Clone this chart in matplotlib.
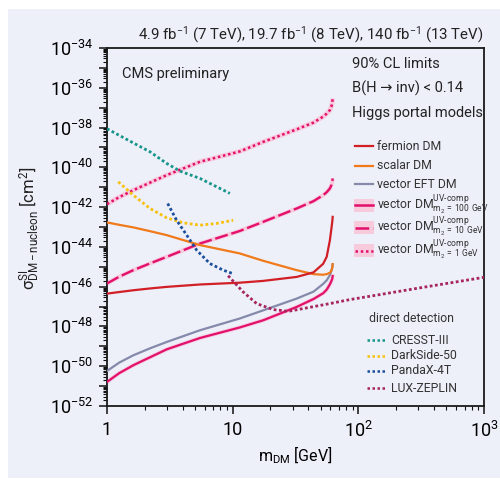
import numpy as np
import matplotlib
matplotlib.use("Agg")
import matplotlib.pyplot as plt
from matplotlib.lines import Line2D
from matplotlib.patches import Rectangle
from matplotlib.ticker import FixedLocator, FuncFormatter, LogLocator, NullFormatter

plt.rcParams['font.family'] = ['Roboto', 'DejaVu Sans']
plt.rcParams['mathtext.fontset'] = 'custom'
plt.rcParams['mathtext.rm'] = 'Roboto'
plt.rcParams['mathtext.it'] = 'Roboto:italic'
plt.rcParams['mathtext.bf'] = 'Roboto:bold'
plt.rcParams['mathtext.sf'] = 'Roboto'

# ---------------- data (log10 of cross-section in cm^2) ----------------
mass_higgs = [1.0, 1.25, 1.62, 2.2, 2.99, 5.5, 11.4, 17.5, 32.3, 44.0, 52.5, 56.0, 59.4, 61.0, 62.0, 62.5]
fermion_log = [-46.35, -46.27, -46.18, -46.09, -46.01, -45.89, -45.80, -45.71, -45.51, -45.28, -44.85, -44.50, -43.66, -43.10, -42.75, -42.49]
scalar_log = [-42.77, -42.89, -43.02, -43.21, -43.41, -43.91, -44.33, -44.70, -45.17, -45.37, -45.40, -45.37, -45.30, -45.20, -45.05, -44.87]
vector_eft_log = [-50.24, -49.82, -49.45, -49.10, -48.78, -48.19, -47.60, -47.19, -46.60, -46.25, -45.86, -45.68, -45.42, -45.20, -45.05, -44.87]
uv100_log = [-50.79, -50.35, -49.95, -49.55, -49.15, -48.58, -48.05, -47.69, -47.02, -46.62, -46.33, -46.15, -45.88, -45.72, -45.60, -45.47]
uv10_log = [-45.84, -45.50, -45.17, -44.83, -44.50, -43.83, -43.20, -42.74, -42.07, -41.70, -41.40, -41.25, -41.06, -40.90, -40.75, -40.56]
uv1_log = [-41.85, -41.50, -41.15, -40.77, -40.39, -39.72, -39.20, -38.72, -38.09, -37.75, -37.45, -37.30, -37.12, -36.95, -36.75, -36.53]

cresst_mass = [1.0, 1.52, 2.2, 2.98, 3.81, 5.5, 9.5]
cresst_log = [-38.06, -38.68, -39.22, -39.80, -40.19, -40.56, -41.31]
darkside_mass = [1.23, 1.62, 2.2, 2.99, 4.05, 5.5, 7.46, 10.1]
darkside_log = [-40.73, -41.40, -42.07, -42.54, -42.79, -42.91, -42.82, -42.66]
pandax_mass = [3.04, 3.58, 4.31, 5.18, 6.59, 8.41, 10.0]
pandax_log = [-41.82, -42.66, -43.41, -44.17, -44.84, -45.17, -45.34]
lz_mass = [9.2, 12.1, 15.5, 21.0, 27.7, 36.5, 59.4, 85.7, 316.0, 1000.0]
lz_log = [-45.45, -46.26, -46.85, -47.15, -47.24, -47.10, -46.85, -46.65, -46.05, -45.53]

x_ticks = [1, 10, 100, 1000]
x_tick_labels = ["1", "10", "$10^2$", "$10^3$"]

# ---------------- colours ----------------
BG = '#EDEFF9'
C_FERM = '#D21F26'
C_SCAL = '#F07A1A'
C_EFT = '#8589AA'
C_UV = '#E2106C'
C_BAND = '#F7CADC'
C_CRESST = '#16958A'
C_DS = '#F8C10C'
C_PX = '#1B4F9C'
C_LZ = '#A6255F'

W, H = 500, 479
fig = plt.figure(figsize=(W / 100, H / 100), dpi=100)
fig.patch.set_facecolor('white')
fig.add_artist(Rectangle((8 / W, 1 - 478 / H), 492 / W, 469 / H, transform=fig.transFigure,
                         facecolor=BG, edgecolor='none', zorder=-10))

def fx(px):
    return px / W

def fy(py):
    return 1 - py / H

ax = fig.add_axes([fx(107), fy(406), (484 - 107) / W, (406 - 48) / H])
ax.set_facecolor(BG)
ax.set_xscale('log')
ax.set_yscale('log')
ax.set_xlim(1, 1000)
ax.set_ylim(1e-52, 1e-34)

def p(v):
    return 10.0 ** np.array(v)

# Higgs portal curves
ax.plot(mass_higgs, p(uv1_log), color=C_BAND, lw=3.4, solid_capstyle='butt', zorder=2)
ax.plot(mass_higgs, p(uv1_log), color=C_UV, lw=1.8, ls=(0, (1, 1.1)), zorder=3)
ax.plot(mass_higgs, p(uv10_log), color=C_BAND, lw=3.0, solid_capstyle='butt', zorder=2)
ax.plot(mass_higgs, p(uv10_log), color=C_UV, lw=1.7, ls=(0, (5.5, 1.6)), zorder=3)
ax.plot(mass_higgs, p(uv100_log), color=C_BAND, lw=2.8, zorder=2)
ax.plot(mass_higgs, p(uv100_log), color=C_UV, lw=1.6, zorder=3)
ax.plot(mass_higgs, p(vector_eft_log), color=C_EFT, lw=1.6, zorder=3)
ax.plot(mass_higgs, p(scalar_log), color=C_SCAL, lw=1.6, zorder=3)
ax.plot(mass_higgs, p(fermion_log), color=C_FERM, lw=1.6, zorder=3)

# direct detection
dot = (0, (1, 0.9))
ax.plot(cresst_mass, p(cresst_log), color=C_CRESST, lw=2.0, ls=dot, zorder=4)
ax.plot(darkside_mass, p(darkside_log), color=C_DS, lw=2.0, ls=dot, zorder=4)
ax.plot(pandax_mass, p(pandax_log), color=C_PX, lw=2.0, ls=dot, zorder=4)
ax.plot(lz_mass, p(lz_log), color=C_LZ, lw=2.0, ls=dot, zorder=4)

# ticks
ax.xaxis.set_major_locator(FixedLocator(x_ticks))
ax.set_xticklabels(x_tick_labels)
ax.xaxis.set_minor_locator(LogLocator(base=10, subs=np.arange(2, 10), numticks=50))
ax.xaxis.set_minor_formatter(NullFormatter())

ax.yaxis.set_major_locator(FixedLocator(10.0 ** np.arange(-52, -33)))
def yfmt(v, pos):
    e = int(round(np.log10(v)))
    return r"$10^{%d}$" % e if e % 2 == 0 else ""
ax.yaxis.set_major_formatter(FuncFormatter(yfmt))
ax.yaxis.set_minor_locator(LogLocator(base=10, subs=np.arange(2, 10), numticks=100))
ax.yaxis.set_minor_formatter(NullFormatter())

ax.tick_params(which='major', direction='out', length=6, width=1.1, labelsize=13, color='#111111')
ax.tick_params(which='minor', direction='out', length=3.2, width=0.8, color='#111111')
ax.tick_params(axis='x', which='major', pad=5)
ax.tick_params(axis='y', which='major', pad=4)
for s in ax.spines.values():
    s.set_linewidth(1.3)
    s.set_color('#1a1a1a')

ax.set_xlabel(r"m$_{\mathrm{DM}}$ [GeV]", fontsize=11.5, labelpad=2)
fig.text(fx(30), fy(228), r"$\mathrm{\sigma}^{\mathrm{SI}}_{\mathrm{DM-nucleon}}$ [cm$^{2}$]",
         rotation=90, fontsize=12, ha='center', va='center', color='#222222')

# header
fig.text(fx(483), fy(39.5), r"4.9 fb$^{-1}$ (7 TeV), 19.7 fb$^{-1}$ (8 TeV), 140 fb$^{-1}$ (13 TeV)",
         ha='right', va='baseline', fontsize=10.8, color='#222222')
fig.text(fx(122), fy(74), "CMS preliminary", ha='left', va='center', fontsize=10.5, color='#222222')
fig.text(fx(352), fy(64), "90% CL limits", ha='left', va='center', fontsize=10.5, color='#222222')
fig.text(fx(352), fy(88.5), "B(H \u2192 inv) < 0.14", ha='left', va='center', fontsize=10.5, color='#222222')
fig.text(fx(352), fy(112.5), "Higgs portal models", ha='left', va='center', fontsize=10.5, color='#222222')

# Higgs legend (manual)
leg_fs = 8.8
def leg_line(py, color, ls='-', band=False, lw=1.6):
    if band:
        fig.add_artist(Rectangle((fx(354), fy(py + 6.5)), (374 - 354) / W, 13 / H,
                                 transform=fig.transFigure, facecolor=C_BAND, edgecolor='none', zorder=5))
    fig.add_artist(Line2D([fx(355), fx(373)], [fy(py), fy(py)], transform=fig.transFigure,
                          color=color, lw=lw, ls=ls, zorder=6))

leg_line(146, C_FERM)
fig.text(fx(377), fy(146), "fermion DM", fontsize=leg_fs, va='center', color='#333333')
leg_line(165.5, C_SCAL)
fig.text(fx(377), fy(165.5), "scalar DM", fontsize=leg_fs, va='center', color='#333333')
leg_line(184, C_EFT)
fig.text(fx(377), fy(184), "vector EFT DM", fontsize=leg_fs, va='center', color='#333333')
uv_entries = [(205, '-', '100'), (227.5, (0, (5.5, 1.6)), '10'), (250.5, (0, (1, 1.1)), '1')]
for py, ls, m2 in uv_entries:
    leg_line(py, C_UV, ls=ls, band=True, lw=1.8)
    fig.text(fx(377), fy(py), r"vector DM$^{\text{UV-comp}}_{\mathrm{m}_{2}\,=\,%s\ \mathrm{GeV}}$" % m2,
             fontsize=leg_fs, va='center', color='#333333')

# direct detection legend
dd_fs = 8.8
fig.text(fx(369), fy(318), "direct detection", fontsize=dd_fs, va='center', color='#333333')
for py, col, lab in [(340, C_CRESST, "CRESST-III"), (355.5, C_DS, "DarkSide-50"),
                     (371, C_PX, "PandaX-4T"), (388, C_LZ, "LUX-ZEPLIN")]:
    fig.add_artist(Line2D([fx(367), fx(387)], [fy(py), fy(py)], transform=fig.transFigure,
                          color=col, lw=1.8, ls=(0, (1, 1)), zorder=6))
    fig.text(fx(391), fy(py), lab, fontsize=dd_fs, va='center', color='#333333')

fig.savefig('out.png', dpi=100, facecolor='white')
